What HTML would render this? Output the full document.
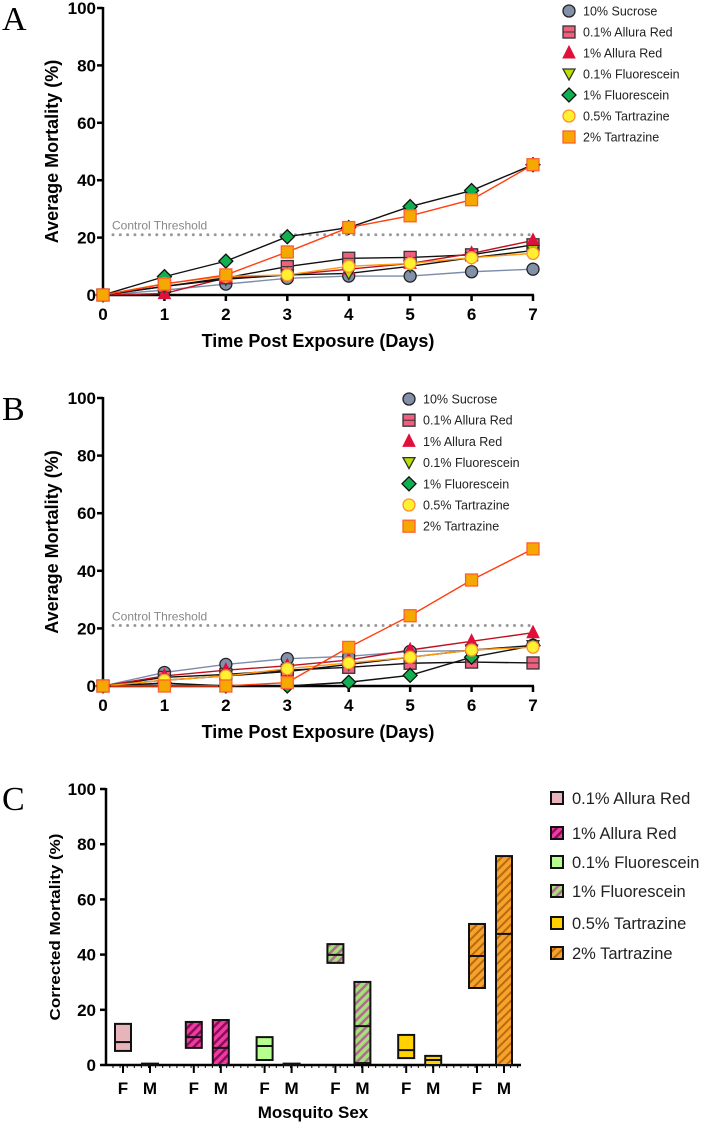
<!DOCTYPE html>
<html><head><meta charset="utf-8"><style>
body{margin:0;background:#fff}
svg{display:block;font-family:"Liberation Sans",sans-serif}
</style></head><body>
<svg id="fig" width="708" height="1122" viewBox="0 0 708 1122">
<defs>
<pattern id="hatchMag" width="6" height="6" patternUnits="userSpaceOnUse" patternTransform="rotate(45)"><rect width="6" height="6" fill="#ee3aa6"/><rect width="2.5" height="6" fill="#8a1050"/></pattern>
<pattern id="hatchGreen" width="6" height="6" patternUnits="userSpaceOnUse" patternTransform="rotate(45)"><rect width="6" height="6" fill="#a6e07a"/><rect width="2.5" height="6" fill="#b06a90"/></pattern>
<pattern id="hatchOrange" width="6" height="6" patternUnits="userSpaceOnUse" patternTransform="rotate(45)"><rect width="6" height="6" fill="#f7a22a"/><rect width="2" height="6" fill="#b86a10"/></pattern>
</defs>
<text x="2" y="30" font-family="Liberation Serif" font-size="34">A</text>
<text x="2" y="420" font-family="Liberation Serif" font-size="34">B</text>
<text x="2" y="810" font-family="Liberation Serif" font-size="34">C</text>
</svg>
<script>
const NS='http://www.w3.org/2000/svg';
const svg=document.getElementById('fig');
function mk(tag,attrs,parent,text){const e=document.createElementNS(NS,tag);for(const k in attrs)e.setAttribute(k,attrs[k]);if(text!==undefined)e.textContent=text;(parent||svg).appendChild(e);return e;}

const days=[0,1,2,3,4,5,6,7];
const yTicks=[0,20,40,60,80,100];
const seriesNames=['10% Sucrose','0.1% Allura Red','1% Allura Red','0.1% Fluorescein','1% Fluorescein','0.5% Tartrazine','2% Tartrazine'];
const threshold=21;
const aSucrose=[0,1.7,3.8,5.8,6.6,6.6,8.1,9.0];
const aAllura01=[0,3,6,9.9,12.8,13.1,14,17.5];
const aAllura1=[0,0.5,6,7,9,11,14.5,19];
const aFluor01=[0,3,5.5,7,7.5,10,13,15.5];
const aFluor1=[0,6.4,11.8,20.3,23.5,30.8,36.4,45.4];
const aTart05=[0,4,6.5,7,10,11,13,14.5];
const aTart2=[0,3.8,7,15,23.5,27.6,33.2,45.4];
const bSucrose=[0,4.7,7.5,9.5,10.3,12,12.3,14.2];
const bAllura01=[0,3,4,5.5,6.5,7.9,8.3,8.0];
const bAllura1=[0,3.5,5.5,7,9,12.5,15.5,18.5];
const bFluor01=[0,2,3.5,5,7.5,10,12.5,14];
const bFluor1=[0,1,0,0,1.3,3.7,10,14];
const bTart05=[0,2,3.5,6,8,10,12.5,13.5];
const bTart2=[0,0,0,1.2,13.4,24.4,36.8,47.6];

const cGroups=['0.1% Allura Red','1% Allura Red','0.1% Fluorescein','1% Fluorescein','0.5% Tartrazine','2% Tartrazine'];
const cSex=['F','M'];
const cMin=[[5.1,0],[6.2,0],[1.8,0],[37.0,0.7],[2.5,0],[27.9,0]];
const cMed=[[8.3,0.2],[10.1,6.2],[6.9,0.2],[39.9,14.1],[5.4,1.8],[39.5,47.5]];
const cMax=[[14.9,0.5],[15.6,16.3],[10.1,0.5],[43.8,30.1],[10.9,3.3],[51.1,75.7]];

const styles=[
 {m:'circle',fill:'#8391a8',stroke:'#222',line:'#7d8cab'},
 {m:'square',fill:'#f0607e',stroke:'#333',line:'#111',bar:true},
 {m:'tri',fill:'#e0103a',stroke:'#e0103a',line:'#c01020'},
 {m:'itri',fill:'#b8e000',stroke:'#333',line:'#111'},
 {m:'diamond',fill:'#10b050',stroke:'#111',line:'#111'},
 {m:'circle',fill:'#fff030',stroke:'#ff9030',line:'#ff9a10'},
 {m:'square',fill:'#f5a800',stroke:'#ff6030',line:'#ff4010'}
];

function marker(g,type,x,y,st,s){
 s=s||6;let e;
 if(type==='circle')e=mk('circle',{cx:x,cy:y,r:s,fill:st.fill,stroke:st.stroke,'stroke-width':1.3},g);
 else if(type==='square'){e=mk('rect',{x:x-s,y:y-s,width:2*s,height:2*s,fill:st.fill,stroke:st.stroke,'stroke-width':1.3},g);if(st.bar)mk('line',{x1:x-s,x2:x+s,y1:y,y2:y,stroke:'#333','stroke-width':1},g);}
 else if(type==='tri')e=mk('polygon',{points:`${x},${y-s-1} ${x+s},${y+s-1} ${x-s},${y+s-1}`,fill:st.fill,stroke:st.stroke,'stroke-width':1},g);
 else if(type==='itri'){e=mk('polygon',{points:`${x-s},${y-s+1} ${x+s},${y-s+1} ${x},${y+s}`,fill:st.fill,stroke:st.stroke,'stroke-width':1.3},g);}
 else e=mk('polygon',{points:`${x},${y-s-1} ${x+s+1},${y} ${x},${y+s+1} ${x-s-1},${y}`,fill:st.fill,stroke:st.stroke,'stroke-width':1.3},g);
 return e;
}

function lineChart(id,top,bottom,data,legX,legY,legStep){
 const x0=103,x1=533;
 const xs=d=>x0+(x1-x0)*d/7;
 const ys=v=>bottom-(bottom-top)*v/100;
 const g=mk('g',{});
 
 
 // threshold
 const th=mk('line',{x1:x0+10,x2:x1,y1:ys(threshold),y2:ys(threshold),stroke:'#999','stroke-width':3,'stroke-dasharray':'0 7.3','stroke-linecap':'round'},g);
 
 
 const tl=mk('text',{x:112,y:ys(threshold)-5,'font-size':12,fill:'#888'},g,'Control Threshold');
 
 
 // axes
 const ya=mk('line',{x1:x0,x2:x0,y1:top-1,y2:bottom+1,stroke:'#000','stroke-width':2.5},g);
 
 
 const xa=mk('line',{x1:x0-1,x2:x1+1,y1:bottom,y2:bottom,stroke:'#000','stroke-width':2.5},g);
 
 
 yTicks.forEach(t=>{
  mk('line',{x1:x0-6,x2:x0,y1:ys(t),y2:ys(t),stroke:'#000','stroke-width':2.5},g);
  const tx=mk('text',{x:x0-7,y:ys(t)+6,'font-size':17,'font-weight':'bold','text-anchor':'end'},g,t);
  
  
 });
 days.forEach(d=>{
  mk('line',{x1:xs(d),x2:xs(d),y1:bottom,y2:bottom+6,stroke:'#000','stroke-width':2.5},g);
  const tx=mk('text',{x:xs(d),y:bottom+25,'font-size':17,'font-weight':'bold','text-anchor':'middle'},g,d);
  
  
 });
 const xt=mk('text',{x:318,y:bottom+52,'font-size':18,'font-weight':'bold','text-anchor':'middle'},g,'Time Post Exposure (Days)');
 
 
 const cy=(top+bottom)/2;
 const yt=mk('text',{x:58,y:cy,'font-size':18,'font-weight':'bold','text-anchor':'middle',transform:`rotate(-90 58 ${cy})`},g,'Average Mortality (%)');
 
 
 // lines then markers
 data.forEach((arr,i)=>{
  const pl=mk('polyline',{points:arr.map((v,d)=>xs(d)+','+ys(v)).join(' '),fill:'none',stroke:styles[i].line,'stroke-width':1.4},g);
  
  
 });
 data.forEach((arr,i)=>{
  arr.forEach((v,d)=>{
   const m=marker(g,styles[i].m,xs(d),ys(v),styles[i]);
   
   
  });
 });
 // legend
 seriesNames.forEach((n,i)=>{
  const y=legY+i*legStep;
  const m=marker(g,styles[i].m,legX,y,styles[i],6);
  
  
  const t=mk('text',{x:legX+14,y:y+4.5,'font-size':12.5,fill:'#222'},g,n);
  
  
 });
}
lineChart('panel-a',8,295,[aSucrose,aAllura01,aAllura1,aFluor01,aFluor1,aTart05,aTart2],569,11,21);
lineChart('panel-b',398,686,[bSucrose,bAllura01,bAllura1,bFluor01,bFluor1,bTart05,bTart2],409,399,21.2);

// Panel C
(function(){
 const top=789,bottom=1065,x0=106,x1=521;
 const ys=v=>bottom-(bottom-top)*v/100;
 const fills=['#e8b4bc','url(#hatchMag)','#b6ff8e','url(#hatchGreen)','#ffd200','url(#hatchOrange)'];
 const g=mk('g',{});
 
 
 const ya=mk('line',{x1:x0,x2:x0,y1:top-1,y2:bottom+1,stroke:'#000','stroke-width':2.5},g);
 
 
 const xa=mk('line',{x1:x0,x2:x1,y1:bottom,y2:bottom,stroke:'#000','stroke-width':2.5},g);
 
 
 for(let x=x0+7;x<x1;x+=7.1)mk('line',{x1:x,x2:x,y1:bottom,y2:bottom+3,stroke:'#000','stroke-width':1},g);
 yTicks.forEach(t=>{
  mk('line',{x1:x0-6,x2:x0,y1:ys(t),y2:ys(t),stroke:'#000','stroke-width':2.5},g);
  const tx=mk('text',{x:x0-10,y:ys(t)+6,'font-size':17,'font-weight':'bold','text-anchor':'end'},g,t);
  
  
 });
 const yt=mk('text',{x:60,y:927,'font-size':17,'font-weight':'bold','text-anchor':'middle',transform:'rotate(-90 60 927) scale(0.88 1)'},g,'');
 yt.remove();
 const yt2=mk('text',{x:0,y:0,'font-size':17,'font-weight':'bold','text-anchor':'middle',transform:'translate(60 927) rotate(-90) scale(1 0.88)'},g,'Corrected Mortality (%)');
 
 
 cGroups.forEach((grp,gi)=>{
  cSex.forEach((s,si)=>{
   const cx=123+gi*70.8+si*27;
   mk('line',{x1:cx,x2:cx,y1:bottom,y2:bottom+8,stroke:'#000','stroke-width':2},g);
   const tx=mk('text',{x:cx,y:1094,'font-size':17,'font-weight':'bold','text-anchor':'middle'},g,s);
   
   
   const y1=ys(cMax[gi][si]),y0=ys(cMin[gi][si]);
   const r=mk('rect',{x:cx-8,y:y1,width:16,height:Math.max(y0-y1,1),fill:fills[gi],stroke:'#111','stroke-width':2},g);
   
   
   mk('line',{x1:cx-8,x2:cx+8,y1:ys(cMed[gi][si]),y2:ys(cMed[gi][si]),stroke:'#111','stroke-width':2},g);
  });
  const ly=[798,833,862,891,923,953][gi];
  const sw=mk('rect',{x:551,y:ly-6,width:12,height:12,fill:fills[gi],stroke:'#111','stroke-width':2},g);
  
  
  const lt=mk('text',{x:572,y:ly+6,'font-size':16.5,fill:'#222'},g,grp);
  
  
 });
 const xt=mk('text',{x:313,y:1118,'font-size':17,'font-weight':'bold','text-anchor':'middle'},g,'Mosquito Sex');
 
 
})();
</script>
</body></html>
